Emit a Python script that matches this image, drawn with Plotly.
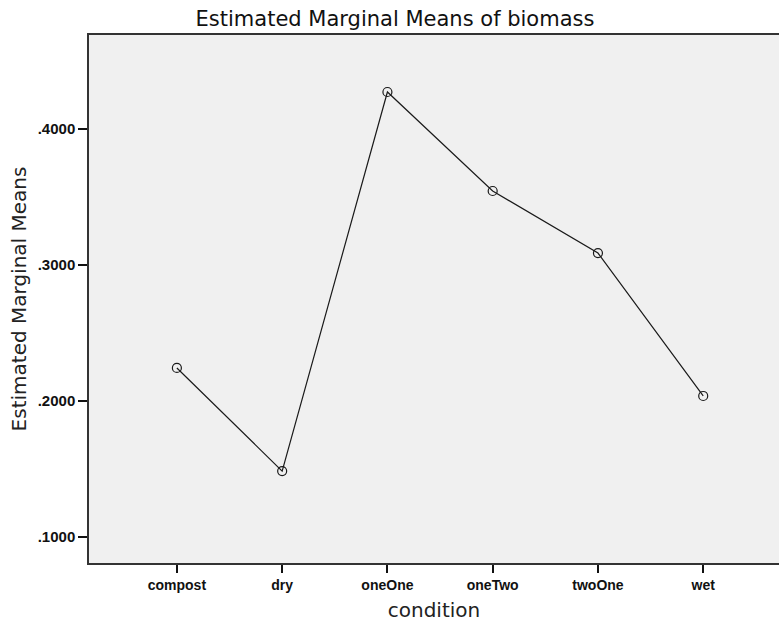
import plotly.graph_objects as go

categories = ["compost", "dry", "oneOne", "oneTwo", "twoOne", "wet"]
means = [0.2243, 0.1485, 0.4272, 0.3544, 0.3088, 0.2037]
y_ticks = [0.1, 0.2, 0.3, 0.4]
y_tick_labels = [".1000", ".2000", ".3000", ".4000"]

fig = go.Figure()
fig.add_trace(go.Scatter(
    x=list(range(len(categories))), y=means, mode="lines+markers",
    line=dict(color="#1a1a1a", width=1.2),
    marker=dict(symbol="circle-open", size=9, color="#1a1a1a", line=dict(width=1.2)),
    showlegend=False, hoverinfo="skip",
))

fig.update_layout(
    width=779, height=622,
    margin=dict(l=89, r=0, t=35, b=59, autoexpand=False),
    paper_bgcolor="white", plot_bgcolor="#F0F0F0",
    font=dict(family="Liberation Sans, Arial, sans-serif", color="#111"),
    title=dict(text="Estimated Marginal Means of biomass", x=395/779, xref="container",
               xanchor="center", y=1-19/622, yref="container", yanchor="middle",
               font=dict(family="DejaVu Sans", size=21, color="#111")),
)
fig.update_xaxes(
    range=[-0.835, 5.72], tickmode="array", tickvals=list(range(len(categories))),
    ticktext=[f"<b>{c}</b>" for c in categories], tickfont=dict(size=14, color="#111"),
    ticks="outside", ticklen=8, tickwidth=2, tickcolor="#111",
    showline=True, linecolor="#333", linewidth=1.5, mirror=True,
    showgrid=False, zeroline=False, automargin=False,
    title=dict(text="condition", font=dict(family="DejaVu Sans", size=20, color="#222"), standoff=14),
)
fig.update_yaxes(
    range=[0.0809, 0.4691], tickmode="array", tickvals=y_ticks, ticktext=[f"<b>{t}</b>" for t in y_tick_labels],
    tickfont=dict(size=15, color="#111"),
    ticks="outside", ticklen=9, tickwidth=2, tickcolor="#111",
    showline=True, linecolor="#333", linewidth=1.5,
    showgrid=False, zeroline=False, automargin=False,
    title=dict(text="Estimated Marginal Means", font=dict(family="DejaVu Sans", size=20, color="#222"), standoff=6),
)
fig.write_html("out.html", config={"displayModeBar": False},
               post_script="document.body.style.margin='0';")
